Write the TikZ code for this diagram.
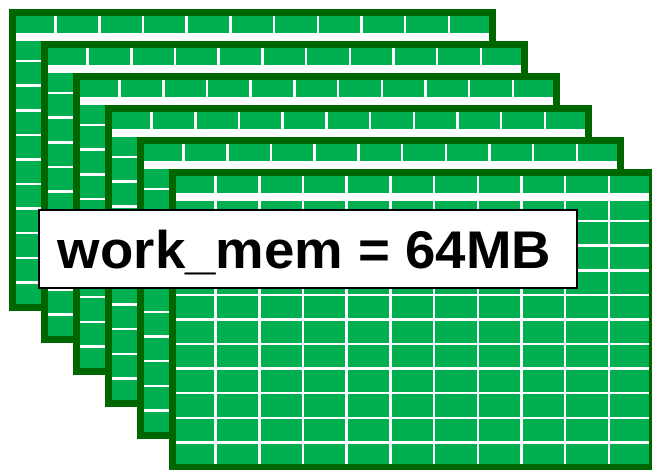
\documentclass[tikz,border=0pt]{standalone}
\usepackage{fontspec}
\setmainfont{Liberation Sans}
\definecolor{gridgreen}{HTML}{00B050}
\definecolor{framegreen}{HTML}{006600}
\tikzset{
  cellline/.style={white, line width=2.5pt},
  headline/.style={white, line width=8pt},
  frameline/.style={framegreen, line width=7pt},
  labelbox/.style={draw=black, line width=1.5pt, fill=white,
    minimum width=538pt, minimum height=78pt, inner sep=0pt,
    text height=38pt, text depth=0pt,
    font=\fontsize{53}{60}\selectfont\bfseries}
}
\begin{document}
\begin{tikzpicture}[x=1pt,y=-1pt]
\useasboundingbox (0,0) rectangle (652,469);
\foreach \i in {0,...,5} {
  \begin{scope}[shift={(12+32*\i,12+32*\i)}]
    \fill[gridgreen] (0,0) rectangle (480.5,295);
    \foreach \k in {1,...,10} \draw[cellline] (43.68*\k,0) -- (43.68*\k,295);
    \foreach \j in {2,...,11} \draw[cellline] (0,24.58*\j) -- (480.5,24.58*\j);
    \draw[headline] (0,24.58) -- (480.5,24.58);
    \draw[frameline] (0,0) rectangle (480.5,295);
  \end{scope}
}
\node[labelbox] (label) at (308,249) {\scalebox{1.03}[1]{work\_mem = 64MB}\hspace*{7pt}};
\end{tikzpicture}
\end{document}
